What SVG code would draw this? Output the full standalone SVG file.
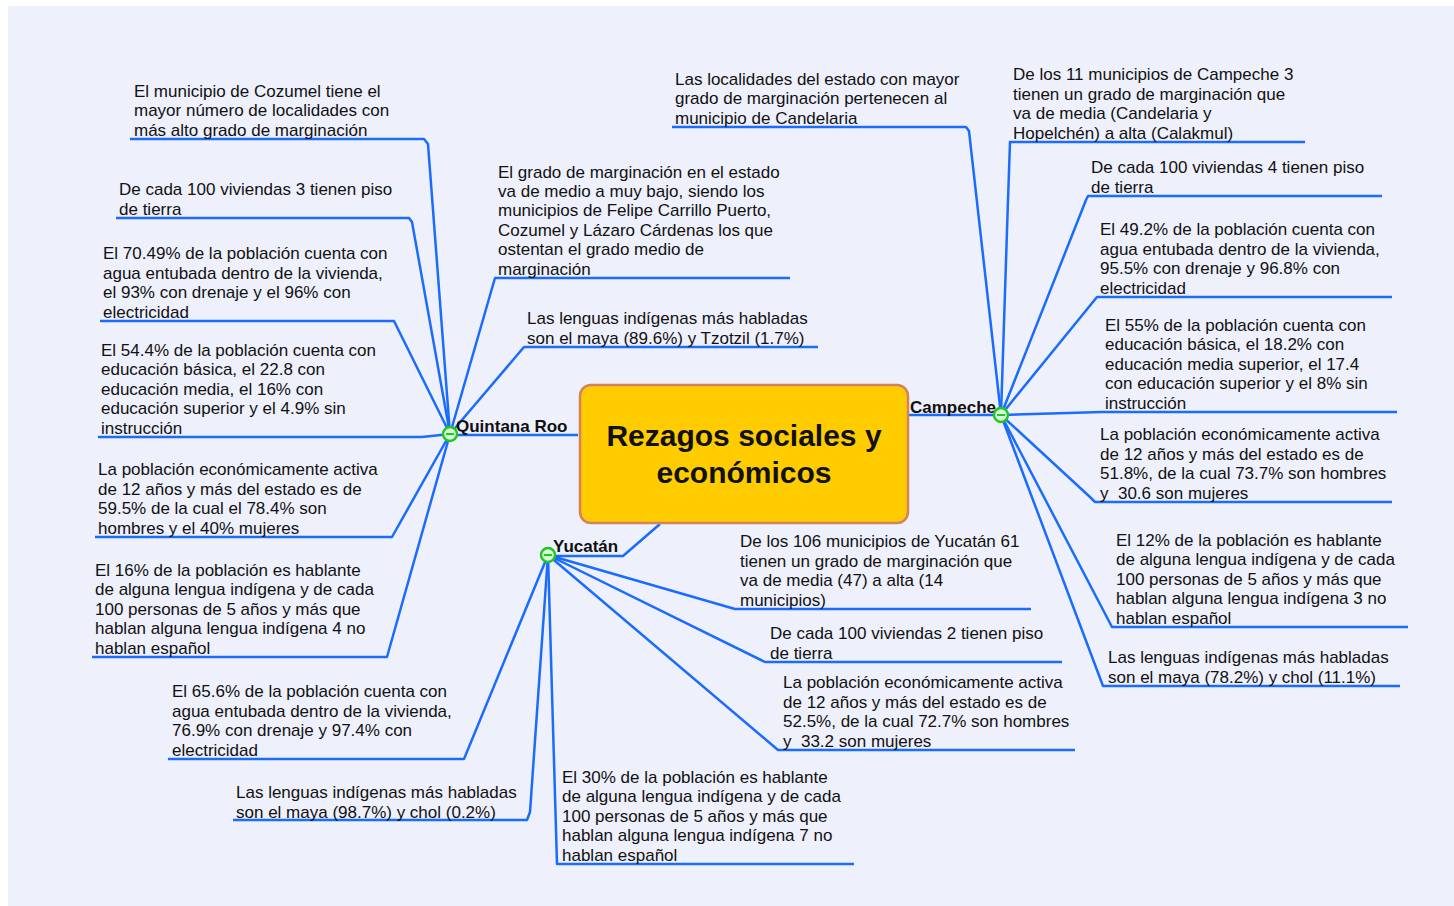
<svg xmlns="http://www.w3.org/2000/svg" width="1454" height="906" viewBox="0 0 1454 906">
<style>
.t{font-family:"Liberation Sans",Arial,sans-serif;font-size:17px;fill:#111}
.lbl{font-family:"Liberation Sans",Arial,sans-serif;font-size:17px;font-weight:bold;fill:#111}
.title{font-family:"Liberation Sans",Arial,sans-serif;font-size:30px;font-weight:bold;fill:#111}
.c{stroke:#1A6CFF;stroke-width:2.5;fill:none;stroke-linejoin:round}
.hub{fill:#D8F8D8;stroke:#1EC81E;stroke-width:2.4}
.hubbar{stroke:#1EC81E;stroke-width:2}
.nodes{transform:translate(0,1.5px)}
</style>
<rect x="0" y="0" width="1454" height="906" fill="#FFFFFF"/>
<rect x="8" y="6" width="1446" height="900" fill="#EEF0FC"/>
<g id="connectors">
<path class="c" d="M578,435 H450"/>
<path class="c" d="M450,434 L428,144 L424,139 H130"/>
<path class="c" d="M450,434 L412,222 L409,218 H116"/>
<path class="c" d="M450,434 L394,321 H100"/>
<path class="c" d="M450,434 L422,437 H98"/>
<path class="c" d="M450,434 L392,537 H95"/>
<path class="c" d="M450,434 L387,657 H92"/>
<path class="c" d="M450,434 L495,278 H790"/>
<path class="c" d="M450,434 L524,347 H818"/>
<path class="c" d="M908,415 H1001"/>
<path class="c" d="M1001,415 L969,131 L966,127 H672"/>
<path class="c" d="M1001,415 L1008,200 L1010,142 H1305"/>
<path class="c" d="M1001,415 L1086,200 L1088,196 H1382"/>
<path class="c" d="M1001,415 L1097,297 H1392"/>
<path class="c" d="M1001,415 L1102,412 H1397"/>
<path class="c" d="M1001,415 L1090,497 L1095,502 H1392"/>
<path class="c" d="M1001,415 L1112,627 H1408"/>
<path class="c" d="M1001,415 L1103,686 H1400"/>
<path class="c" d="M660,524 L623,556 H548"/>
<path class="c" d="M548,555 L735,609 H1031"/>
<path class="c" d="M548,555 L765,662 H1062"/>
<path class="c" d="M548,555 L778,750 H1075"/>
<path class="c" d="M548,555 L557,864 H854"/>
<path class="c" d="M548,555 L530,812 L527,820 H233"/>
<path class="c" d="M548,555 L464,759 H168"/>
</g>
<g id="center">
<rect x="580" y="385" width="328" height="138" rx="11" fill="#FFCC00" stroke="#D4825C" stroke-width="2.5"/>
<text class="title" text-anchor="middle"><tspan x="744" y="446">Rezagos sociales y</tspan><tspan x="744" y="483">económicos</tspan></text>
</g>
<g id="quintana-roo">
<text class="lbl" x="456" y="432">Quintana Roo</text>
<circle class="hub" cx="450" cy="434" r="7"/><line class="hubbar" x1="446" y1="434" x2="454" y2="434"/>
</g>
<g id="campeche">
<text class="lbl" x="910" y="413">Campeche</text>
<circle class="hub" cx="1001" cy="415" r="7"/><line class="hubbar" x1="997" y1="415" x2="1005" y2="415"/>
</g>
<g id="yucatan">
<text class="lbl" x="553" y="552">Yucatán</text>
<circle class="hub" cx="548" cy="555" r="7"/><line class="hubbar" x1="544" y1="555" x2="552" y2="555"/>
</g>
<g class="nodes">
<g id="qr-cozumel"><text class="t"><tspan x="134" y="95.2">El municipio de Cozumel tiene el</tspan><tspan x="134" y="114.6">mayor número de localidades con</tspan><tspan x="134" y="134">más alto grado de marginación</tspan></text></g>
<g id="qr-piso"><text class="t"><tspan x="119" y="193.6">De cada 100 viviendas 3 tienen piso</tspan><tspan x="119" y="213">de tierra</tspan></text></g>
<g id="qr-agua"><text class="t"><tspan x="103" y="257.8">El 70.49% de la población cuenta con</tspan><tspan x="103" y="277.2">agua entubada dentro de la vivienda,</tspan><tspan x="103" y="296.6">el 93% con drenaje y el 96% con</tspan><tspan x="103" y="316">electricidad</tspan></text></g>
<g id="qr-educacion"><text class="t"><tspan x="101" y="354.4">El 54.4% de la población cuenta con</tspan><tspan x="101" y="373.8">educación básica, el 22.8 con</tspan><tspan x="101" y="393.2">educación media, el 16% con</tspan><tspan x="101" y="412.6">educación superior y el 4.9% sin</tspan><tspan x="101" y="432">instrucción</tspan></text></g>
<g id="qr-pea"><text class="t"><tspan x="98" y="473.8">La población económicamente activa</tspan><tspan x="98" y="493.2">de 12 años y más del estado es de</tspan><tspan x="98" y="512.6">59.5% de la cual el 78.4% son</tspan><tspan x="98" y="532">hombres y el 40% mujeres</tspan></text></g>
<g id="qr-lengua"><text class="t"><tspan x="95" y="574.4">El 16% de la población es hablante</tspan><tspan x="95" y="593.8">de alguna lengua indígena y de cada</tspan><tspan x="95" y="613.2">100 personas de 5 años y más que</tspan><tspan x="95" y="632.6">hablan alguna lengua indígena 4 no</tspan><tspan x="95" y="652">hablan español</tspan></text></g>
<g id="qr-grado"><text class="t"><tspan x="498" y="176">El grado de marginación en el estado</tspan><tspan x="498" y="195.4">va de medio a muy bajo, siendo los</tspan><tspan x="498" y="214.8">municipios de Felipe Carrillo Puerto,</tspan><tspan x="498" y="234.2">Cozumel y Lázaro Cárdenas los que</tspan><tspan x="498" y="253.6">ostentan el grado medio de</tspan><tspan x="498" y="273">marginación</tspan></text></g>
<g id="qr-lenguas"><text class="t"><tspan x="527" y="322.6">Las lenguas indígenas más habladas</tspan><tspan x="527" y="342">son el maya (89.6%) y Tzotzil (1.7%)</tspan></text></g>
<g id="c-localidades"><text class="t"><tspan x="675" y="83.2">Las localidades del estado con mayor</tspan><tspan x="675" y="102.6">grado de marginación pertenecen al</tspan><tspan x="675" y="122">municipio de Candelaria</tspan></text></g>
<g id="c-municipios"><text class="t"><tspan x="1013" y="78.8">De los 11 municipios de Campeche 3</tspan><tspan x="1013" y="98.2">tienen un grado de marginación que</tspan><tspan x="1013" y="117.6">va de media (Candelaria y</tspan><tspan x="1013" y="137">Hopelchén) a alta (Calakmul)</tspan></text></g>
<g id="c-piso"><text class="t"><tspan x="1091" y="171.6">De cada 100 viviendas 4 tienen piso</tspan><tspan x="1091" y="191">de tierra</tspan></text></g>
<g id="c-agua"><text class="t"><tspan x="1100" y="233.8">El 49.2% de la población cuenta con</tspan><tspan x="1100" y="253.2">agua entubada dentro de la vivienda,</tspan><tspan x="1100" y="272.6">95.5% con drenaje y 96.8% con</tspan><tspan x="1100" y="292">electricidad</tspan></text></g>
<g id="c-educacion"><text class="t"><tspan x="1105" y="329.4">El 55% de la población cuenta con</tspan><tspan x="1105" y="348.8">educación básica, el 18.2% con</tspan><tspan x="1105" y="368.2">educación media superior, el 17.4</tspan><tspan x="1105" y="387.6">con educación superior y el 8% sin</tspan><tspan x="1105" y="407">instrucción</tspan></text></g>
<g id="c-pea"><text class="t"><tspan x="1100" y="438.8">La población económicamente activa</tspan><tspan x="1100" y="458.2">de 12 años y más del estado es de</tspan><tspan x="1100" y="477.6">51.8%, de la cual 73.7% son hombres</tspan><tspan x="1100" y="497">y&#160; 30.6 son mujeres</tspan></text></g>
<g id="c-lengua"><text class="t"><tspan x="1116" y="544.4">El 12% de la población es hablante</tspan><tspan x="1116" y="563.8">de alguna lengua indígena y de cada</tspan><tspan x="1116" y="583.2">100 personas de 5 años y más que</tspan><tspan x="1116" y="602.6">hablan alguna lengua indígena 3 no</tspan><tspan x="1116" y="622">hablan español</tspan></text></g>
<g id="c-lenguas"><text class="t"><tspan x="1108" y="661.6">Las lenguas indígenas más habladas</tspan><tspan x="1108" y="681">son el maya (78.2%) y chol (11.1%)</tspan></text></g>
<g id="y-municipios"><text class="t"><tspan x="740" y="545.8">De los 106 municipios de Yucatán 61</tspan><tspan x="740" y="565.2">tienen un grado de marginación que</tspan><tspan x="740" y="584.6">va de media (47) a alta (14</tspan><tspan x="740" y="604">municipios)</tspan></text></g>
<g id="y-piso"><text class="t"><tspan x="770" y="637.6">De cada 100 viviendas 2 tienen piso</tspan><tspan x="770" y="657">de tierra</tspan></text></g>
<g id="y-pea"><text class="t"><tspan x="783" y="686.8">La población económicamente activa</tspan><tspan x="783" y="706.2">de 12 años y más del estado es de</tspan><tspan x="783" y="725.6">52.5%, de la cual 72.7% son hombres</tspan><tspan x="783" y="745">y&#160; 33.2 son mujeres</tspan></text></g>
<g id="y-lengua"><text class="t"><tspan x="562" y="781.4">El 30% de la población es hablante</tspan><tspan x="562" y="800.8">de alguna lengua indígena y de cada</tspan><tspan x="562" y="820.2">100 personas de 5 años y más que</tspan><tspan x="562" y="839.6">hablan alguna lengua indígena 7 no</tspan><tspan x="562" y="859">hablan español</tspan></text></g>
<g id="y-lenguas"><text class="t"><tspan x="236" y="796.6">Las lenguas indígenas más habladas</tspan><tspan x="236" y="816">son el maya (98.7%) y chol (0.2%)</tspan></text></g>
<g id="y-agua"><text class="t"><tspan x="172" y="695.8">El 65.6% de la población cuenta con</tspan><tspan x="172" y="715.2">agua entubada dentro de la vivienda,</tspan><tspan x="172" y="734.6">76.9% con drenaje y 97.4% con</tspan><tspan x="172" y="754">electricidad</tspan></text></g>
</g>
</svg>
